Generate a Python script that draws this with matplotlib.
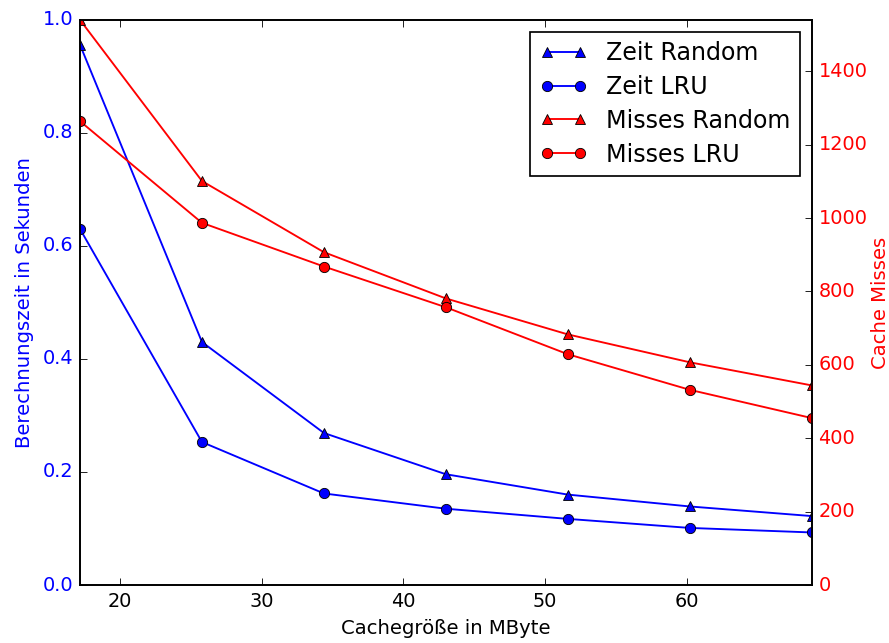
import matplotlib
matplotlib.use("Agg")
import matplotlib.pyplot as plt

plt.style.use("classic")
plt.rcParams["xtick.labelsize"] = 11.3
plt.rcParams["ytick.labelsize"] = 11.3
plt.rcParams["axes.labelsize"] = 11.5
plt.rcParams["legend.fontsize"] = 13.9

# Cachegroesse in MByte
groesse = [17.2, 25.8, 34.4, 43.0, 51.6, 60.2, 68.8]

# Berechnungszeit in Sekunden
zeit_random = [0.956, 0.430, 0.269, 0.196, 0.160, 0.139, 0.122]
zeit_lru = [0.630, 0.253, 0.162, 0.135, 0.117, 0.101, 0.093]

# Cache Misses
misses_random = [1540, 1101, 907, 781, 683, 607, 544]
misses_lru = [1264, 987, 868, 757, 629, 532, 455]

DPI = 123
fig = plt.figure(figsize=(889 / DPI, 643 / DPI), dpi=DPI, facecolor="white")
fig.subplots_adjust(left=0.09, right=0.913, bottom=0.0902, top=0.969)

ax = fig.add_subplot(111)
ax2 = ax.twinx()

l1, = ax.plot(groesse, zeit_random, "b-^", lw=1.1, mec="k", mew=0.5, label="Zeit Random")
l2, = ax.plot(groesse, zeit_lru, "b-o", lw=1.1, mec="k", mew=0.5, label="Zeit LRU")
l3, = ax2.plot(groesse, misses_random, "r-^", lw=1.1, mec="k", mew=0.5, label="Misses Random")
l4, = ax2.plot(groesse, misses_lru, "r-o", lw=1.1, mec="k", mew=0.5, label="Misses LRU")

ax.set_xlim(min(groesse), max(groesse))
ax.set_ylim(0, 1.0)
ax2.set_ylim(0, max(misses_random))

ax.set_xlabel("Cachegröße in MByte")
ax.set_ylabel("Berechnungszeit in Sekunden", color="b")
ax2.set_ylabel("Cache Misses", color="r", labelpad=2)

for t in ax.get_yticklabels():
    t.set_color("b")
for t in ax2.get_yticklabels():
    t.set_color("r")

ax2.legend(handles=[l1, l2, l3, l4], loc="upper right", numpoints=2,
           labelspacing=0.41)

fig.savefig("out.png", dpi=DPI, facecolor="white")
